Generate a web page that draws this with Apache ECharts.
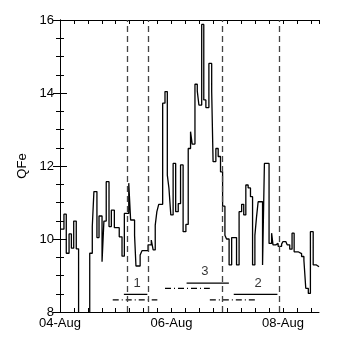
<!DOCTYPE html>
<html>
<head>
<meta charset="utf-8">
<script src="https://cdn.jsdelivr.net/npm/echarts@6/dist/echarts.min.js"></script>
<style>
	html, body { margin: 0; padding: 0; background: #fff; }
	#chart { width: 342px; height: 342px; }
</style>
</head>
<body>
<div id="chart"></div>
<script>
// hours since 04-Aug 00:00, each value holds until the next time
var hours = [
	0, 1.7, 2.7, 3.9, 4.9, 5.9, 7.0, 8.0, 12.8, 13.9, 14.6, 15.9, 16.8, 18.1, 18.9, 19.9,
	21.1, 22.1, 23.4, 25.5, 26.7, 27.7, 29.6, 30.4, 32.1, 32.7, 34.5, 35.3, 37.9, 39.3,
	40.1, 41.0, 41.7, 42.5, 44.2, 45.2, 46.2, 46.9, 47.7, 48.7, 49.8, 50.9, 51.9, 53.0,
	54.2, 55.2, 56.2, 56.9, 58.1, 59.1, 59.8, 61.0, 61.9, 62.8, 64.1, 65.3, 65.9, 67.1,
	68.1, 69.1, 70.0, 71.0, 71.7, 72.8, 73.9, 76.0, 77.1, 78.2, 79.1, 80.0, 81.0, 82.0,
	82.9, 83.9, 84.6, 85.3, 87.2, 88.0, 90.0, 91.1, 91.7, 92.9, 93.9, 95.4, 96.0, 97.2,
	97.8, 98.9, 99.9, 100.8, 102.5, 104.0, 105.0, 105.8, 106.9, 107.8, 109.0, 110.4
];
var qfe = [
	10.27, 10.68, 9.61, 10.14, 9.75, 10.49, 9.73, 7.5, 9.61, 10.34, 11.3, 10.04, 10.63, 9.38, 10.49, 11.57,
	10.34, 10.79, 10.31, 10.06, 9.53, 10.7, 11.53, 10.52, 10.1, 9.26, 9.56, 9.68, 9.84, 9.97,
	9.7, 10.38, 10.75, 10.95, 13.72, 14.04, 11.75, 11.39, 10.66, 12.07, 10.75, 10.97, 12.03, 10.2,
	10.4, 12.48, 12.94, 12.6, 14.24, 14.05, 13.67, 15.88, 13.81, 13.6, 14.81, 14.04, 12.12, 12.48,
	12.26, 11.84, 10.9, 10.1, 10.0, 9.29, 10.04, 9.29, 10.75, 10.95, 10.66, 11.48, 11.4, 11.16,
	9.29, 10.1, 10.6, 11.02, 9.29, 12.07, 9.88, 10.16, 9.84, 9.88, 9.8, 9.86, 9.93, 9.9,
	9.84, 9.72, 10.16, 9.65, 9.6, 9.52, 9.42, 8.65, 8.51, 10.2, 9.29, 9.24
];
var endHour = 111.5;

var dayTicks = [0, 48, 96];
var dayLabels = ["04-Aug", "06-Aug", "08-Aug"];

var dashedAt = [28.9, 38.0, 70.0, 94.2];

// interval bars: [start hour, end hour, level]
var solidBars = [[27.5, 37.6, 8.485], [54.5, 72.7, 8.79], [74.8, 93.6, 8.485]];
var dashDotBars = [[22.7, 41.9, 8.33], [45.2, 64.5, 8.65], [64.5, 83.9, 8.33]];
var barLabels = [["1", 33.2, 8.79], ["3", 62.4, 9.1], ["2", 85.3, 8.77]];

var font = "Liberation Sans";

var stepData = [];
for (var i = 0; i < hours.length; i++) {
	stepData.push([hours[i], qfe[i]]);
}
stepData.push([endHour, qfe[qfe.length - 1]]);

var series = [
	{
		type: "line",
		data: stepData,
		step: "end",
		symbol: "none",
		lineStyle: { color: "#000", width: 1.3 },
		markLine: {
			silent: true,
			symbol: "none",
			label: { show: false },
			lineStyle: { color: "#444", width: 1.3, type: [6, 4] },
			data: dashedAt.map(function (h) { return { xAxis: h }; }),
		},
		z: 3,
	},
];

solidBars.forEach(function (b) {
	series.push({
		type: "line",
		data: [[b[0], b[2]], [b[1], b[2]]],
		symbol: "none",
		lineStyle: { color: "#000", width: 1.2 },
	});
});
dashDotBars.forEach(function (b) {
	series.push({
		type: "line",
		data: [[b[0], b[2]], [b[1], b[2]]],
		symbol: "none",
		lineStyle: { color: "#000", width: 1.2, type: [6, 3, 1, 3] },
	});
});
series.push({
	type: "scatter",
	symbolSize: 0,
	data: barLabels.map(function (l) { return { value: [l[1], l[2]], name: l[0] }; }),
	label: {
		show: true,
		position: "inside",
		formatter: "{b}",
		color: "#000",
		fontFamily: font,
		fontSize: 13,
	},
});

var chart = echarts.init(document.getElementById("chart"));
chart.setOption({
	animation: false,
	grid: { left: 60, right: 23, top: 20, bottom: 30 },
	xAxis: [
		{
			type: "value",
			min: 0,
			max: endHour,
			interval: 6,
			axisLine: { lineStyle: { color: "#000" } },
			axisTick: { inside: true, length: 4, lineStyle: { color: "#000" } },
			splitLine: { show: false },
			axisLabel: {
				color: "#000",
				fontFamily: font,
				fontSize: 13,
				margin: 5,
				showMaxLabel: false,
				formatter: function (v) {
					var k = dayTicks.indexOf(v);
					return k >= 0 ? dayLabels[k] : "";
				},
			},
		},
		{
			type: "value",
			position: "top",
			min: 0,
			max: endHour,
			interval: 6,
			axisLine: { lineStyle: { color: "#000" } },
			axisTick: { inside: true, length: 4, lineStyle: { color: "#000" } },
			axisLabel: { show: false },
			splitLine: { show: false },
		},
	],
	yAxis: [
		{
			type: "value",
			min: 8,
			max: 16,
			interval: 2,
			name: "QFe",
			nameLocation: "middle",
			nameGap: 21,
			nameTextStyle: { color: "#000", fontFamily: font, fontSize: 13 },
			axisLine: { show: true, lineStyle: { color: "#000" } },
			axisTick: { inside: true, length: 7, lineStyle: { color: "#000" } },
			minorTick: { show: true, splitNumber: 4, length: 4, lineStyle: { color: "#000" } },
			splitLine: { show: false },
			axisLabel: { color: "#000", fontFamily: font, fontSize: 13, margin: 6 },
		},
		{
			type: "value",
			position: "right",
			min: 8,
			max: 16,
			interval: 2,
			axisLine: { show: true, lineStyle: { color: "#000" } },
			axisTick: { inside: true, length: 7, lineStyle: { color: "#000" } },
			minorTick: { show: true, splitNumber: 4, length: 4, lineStyle: { color: "#000" } },
			splitLine: { show: false },
			axisLabel: { show: false },
		},
	],
	series: series,
});
</script>
</body>
</html>
